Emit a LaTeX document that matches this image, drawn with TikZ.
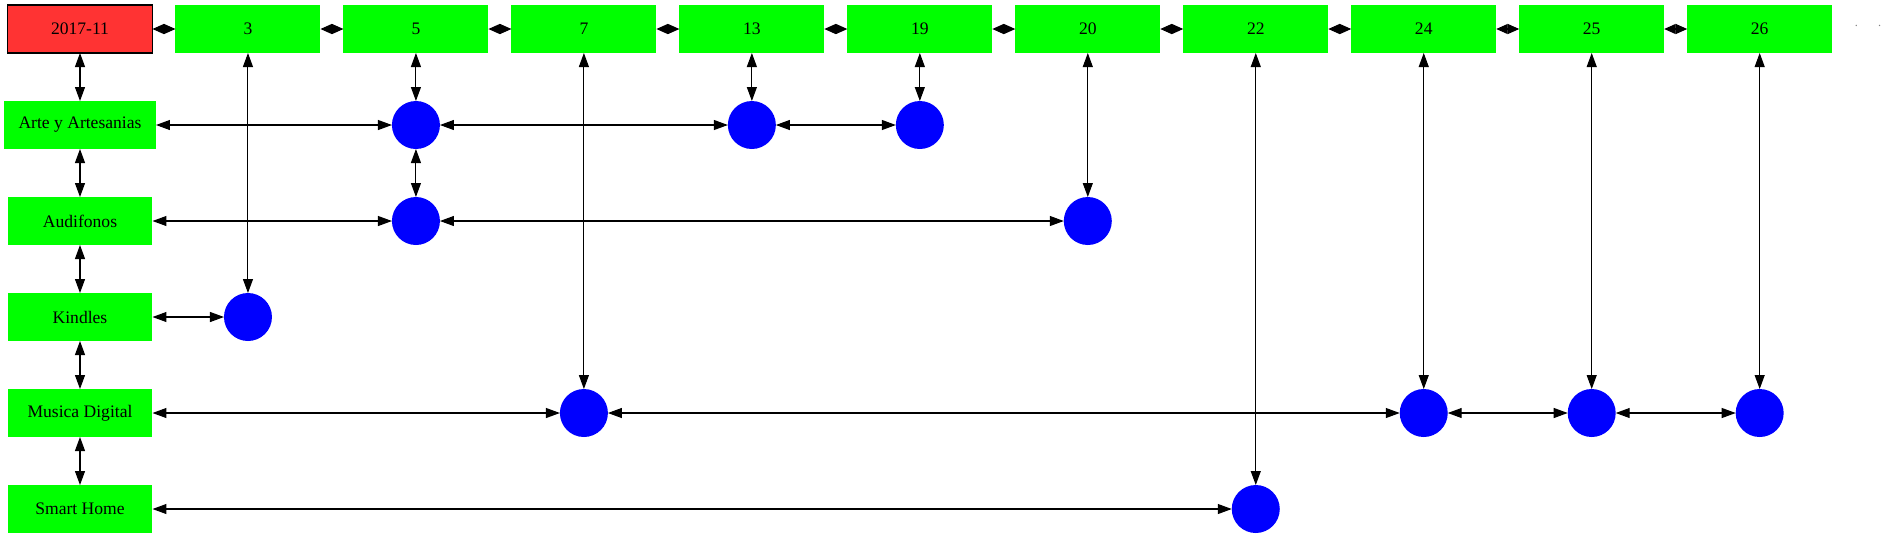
\documentclass[tikz,border=0pt]{standalone}
\usepackage{fontspec}
\setmainfont{Liberation Serif}
\usepackage{tikz}
\usetikzlibrary{arrows.meta,positioning}
\definecolor{hgreen}{HTML}{00FF00}
\definecolor{hred}{HTML}{FF3333}
\definecolor{hblue}{HTML}{0000FF}

\begin{document}
\begin{tikzpicture} %
		[
			x=0.02cm, y=-0.02cm,
			font={\fontsize{10}{12}\selectfont},
			hdr/.style={
				fill=hgreen,
				minimum width=2.9cm,
				minimum height=0.96cm,
				inner sep=0,
				outer sep=0,
			},
			cat/.style={hdr},
			dot/.style={circle, fill=hblue, minimum size=0.96cm, inner sep=0, outer sep=0},
			arch/.style={{Triangle[length=0.28cm,width=0.2cm]}-{Triangle[length=0.28cm,width=0.2cm]}, line width=0.6pt},
			chain/.style={{Triangle[length=0.23cm,width=0.2cm]}-{Triangle[length=0.23cm,width=0.2cm]}, line width=0.6pt},
		]
		\useasboundingbox (0,0) rectangle (1885,539);
		% month and day headers
		\node[hdr, fill=hred, draw=black, line width=0.6pt] (h0) at (80,29) {2017-11};
		\node[hdr, right=0.46cm of h0] (h3) {3};
		\node[hdr, right=0.46cm of h3] (h5) {5};
		\node[hdr, right=0.46cm of h5] (h7) {7};
		\node[hdr, right=0.46cm of h7] (h13) {13};
		\node[hdr, right=0.46cm of h13] (h19) {19};
		\node[hdr, right=0.46cm of h19] (h20) {20};
		\node[hdr, right=0.46cm of h20] (h22) {22};
		\node[hdr, right=0.46cm of h22] (h24) {24};
		\node[hdr, right=0.46cm of h24] (h25) {25};
		\node[hdr, right=0.46cm of h25] (h26) {26};
		\node[font=\scriptsize, text=gray] (more) at (1868,26) {.\hspace{0.4cm}.};
		% categories
		\node[cat, minimum width=3.04cm] (arte) at (80,125) {Arte y Artesanias};
		\node[cat] (audi) at (80,221) {Audifonos};
		\node[cat] (kind) at (80,317) {Kindles};
		\node[cat] (musi) at (80,413) {Musica Digital};
		\node[cat] (smart) at (80,509) {Smart Home};
		% entries
		\node[dot] (arte5) at (h5 |- arte) {};
		\node[dot] (arte13) at (h13 |- arte) {};
		\node[dot] (arte19) at (h19 |- arte) {};
		\node[dot] (audi5) at (h5 |- audi) {};
		\node[dot] (audi20) at (h20 |- audi) {};
		\node[dot] (kind3) at (h3 |- kind) {};
		\node[dot] (musi7) at (h7 |- musi) {};
		\node[dot] (musi24) at (h24 |- musi) {};
		\node[dot] (musi25) at (h25 |- musi) {};
		\node[dot] (musi26) at (h26 |- musi) {};
		\node[dot] (smart22) at (h22 |- smart) {};
		% header chain
		\draw[chain] (h0) -- (h3);
		\draw[chain] (h3) -- (h5);
		\draw[chain] (h5) -- (h7);
		\draw[chain] (h7) -- (h13);
		\draw[chain] (h13) -- (h19);
		\draw[chain] (h19) -- (h20);
		\draw[chain] (h20) -- (h22);
		\draw[chain] (h22) -- (h24);
		\draw[chain] (h24) -- (h25);
		\draw[chain] (h25) -- (h26);
		% category chain
		\draw[arch] (h0) -- (arte);
		\draw[arch] (arte) -- (audi);
		\draw[arch] (audi) -- (kind);
		\draw[arch] (kind) -- (musi);
		\draw[arch] (musi) -- (smart);
		% columns
		\draw[arch] (h3) -- (kind3);
		\draw[arch] (h5) -- (arte5);
		\draw[arch] (arte5) -- (audi5);
		\draw[arch] (h7) -- (musi7);
		\draw[arch] (h13) -- (arte13);
		\draw[arch] (h19) -- (arte19);
		\draw[arch] (h20) -- (audi20);
		\draw[arch] (h22) -- (smart22);
		\draw[arch] (h24) -- (musi24);
		\draw[arch] (h25) -- (musi25);
		\draw[arch] (h26) -- (musi26);
		% rows
		\draw[arch] (arte) -- (arte5);
		\draw[arch] (arte5) -- (arte13);
		\draw[arch] (arte13) -- (arte19);
		\draw[arch] (audi) -- (audi5);
		\draw[arch] (audi5) -- (audi20);
		\draw[arch] (kind) -- (kind3);
		\draw[arch] (musi) -- (musi7);
		\draw[arch] (musi7) -- (musi24);
		\draw[arch] (musi24) -- (musi25);
		\draw[arch] (musi25) -- (musi26);
		\draw[arch] (smart) -- (smart22);
	\end{tikzpicture}
\end{document}
